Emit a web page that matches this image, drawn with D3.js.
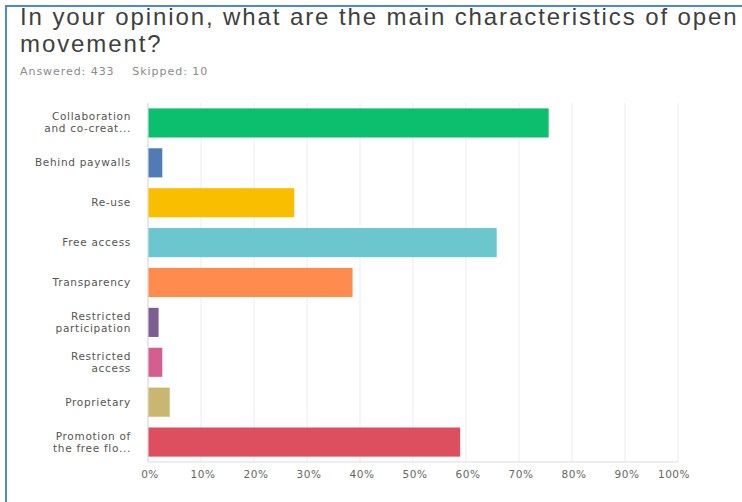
<!DOCTYPE html>
<html>
<head>
    <meta charset="utf-8">
    <title>Open movement characteristics</title>
    <script src="https://d3js.org/d3.v7.min.js"></script>
    <style>
        body { margin: 0; background: #fff; }
        svg { display: block; }
    </style>
</head>
<body>
    <div id="chart"></div>
    <script>
        // Data
        const categories = [
            ["Collaboration", "and co-creat..."],
            ["Behind paywalls"],
            ["Re-use"],
            ["Free access"],
            ["Transparency"],
            ["Restricted", "participation"],
            ["Restricted", "access"],
            ["Proprietary"],
            ["Promotion of", "the free flo..."]
        ];
        const percents = [75.5, 2.6, 27.5, 65.7, 38.5, 1.9, 2.6, 4.0, 58.8];
        const barColors = ["#0cbf6e", "#507cb6", "#f9be00", "#6bc7cd", "#ff8b4f",
                           "#7d5e90", "#d25f90", "#c8b671", "#dd4f5f"];
        const tickValues = [0, 10, 20, 30, 40, 50, 60, 70, 80, 90, 100];

        const width = 742, height = 502;
        const labelFont = "'DejaVu Sans', sans-serif";

        const svg = d3.select("#chart").append("svg")
            .attr("width", width)
            .attr("height", height);

        // frame
        svg.append("path")
            .attr("d", `M6,${height} V6 H${width}`)
            .attr("fill", "none")
            .attr("stroke", "#4f86d6")
            .attr("stroke-width", 2);

        // title, two lines (the first runs off the right edge as in the source)
        const titleLines = ["In your opinion, what are the main characteristics of open", "movement?"];
        svg.append("g").selectAll("text")
            .data(titleLines)
            .join("text")
            .attr("x", 20)
            .attr("y", (d, i) => 25 + i * 27)
            .attr("fill", "#3f3f3f")
            .style("font-family", "'Liberation Sans', Arial, sans-serif")
            .style("font-size", "24px")
            .style("letter-spacing", "1.9px")
            .text(d => d);

        svg.append("text")
            .attr("x", 20).attr("y", 75)
            .attr("fill", "#8a8a8a")
            .style("font-family", labelFont)
            .style("font-size", "11px")
            .style("letter-spacing", "0.95px")
            .text("Answered: 433\u00a0\u00a0\u00a0\u00a0Skipped: 10");

        const x = d3.scaleLinear().domain([0, 100]).range([148, 678]);
        const y = d3.scaleBand().domain(d3.range(categories.length))
            .range([103, 462]).paddingInner(0.27).paddingOuter(0.135);

        // gridlines
        svg.append("g").selectAll("line")
            .data(tickValues.slice(1))
            .join("line")
            .attr("x1", d => x(d)).attr("x2", d => x(d))
            .attr("y1", 103).attr("y2", 462)
            .attr("stroke", "#ececec");

        // axis lines
        svg.append("line")
            .attr("x1", x(0)).attr("x2", x(100))
            .attr("y1", 462).attr("y2", 462)
            .attr("stroke", "#dcdcdc");
        svg.append("line")
            .attr("x1", x(0)).attr("x2", x(0))
            .attr("y1", 103).attr("y2", 462)
            .attr("stroke", "#d0d0d0");

        // bars
        svg.append("g").selectAll("rect")
            .data(percents)
            .join("rect")
            .attr("x", x(0) + 0.5)
            .attr("y", (d, i) => y(i))
            .attr("width", d => x(d) - x(0))
            .attr("height", y.bandwidth())
            .attr("fill", (d, i) => barColors[i]);

        // category labels
        const labels = svg.append("g").selectAll("text")
            .data(categories)
            .join("text")
            .attr("text-anchor", "end")
            .attr("fill", "#555")
            .style("font-family", labelFont)
            .style("font-size", "10.5px")
            .style("letter-spacing", "0.7px");
        labels.each(function(d, i) {
            const cy = y(i) + y.bandwidth() / 2;
            const lh = 12;
            const start = cy - (d.length - 1) * lh / 2 + 3.5;
            d.forEach((line, k) => {
                d3.select(this).append("tspan")
                    .attr("x", 131)
                    .attr("y", start + k * lh)
                    .text(line);
            });
        });

        // x tick labels
        svg.append("g").selectAll("text")
            .data(tickValues)
            .join("text")
            .attr("x", d => x(d) + 2 - (d === 100 ? 6 : 0))
            .attr("y", 478)
            .attr("text-anchor", "middle")
            .attr("fill", "#666")
            .style("font-family", labelFont)
            .style("font-size", "10.5px")
            .style("letter-spacing", "0.5px")
            .text(d => d + "%");
    </script>
</body>
</html>
